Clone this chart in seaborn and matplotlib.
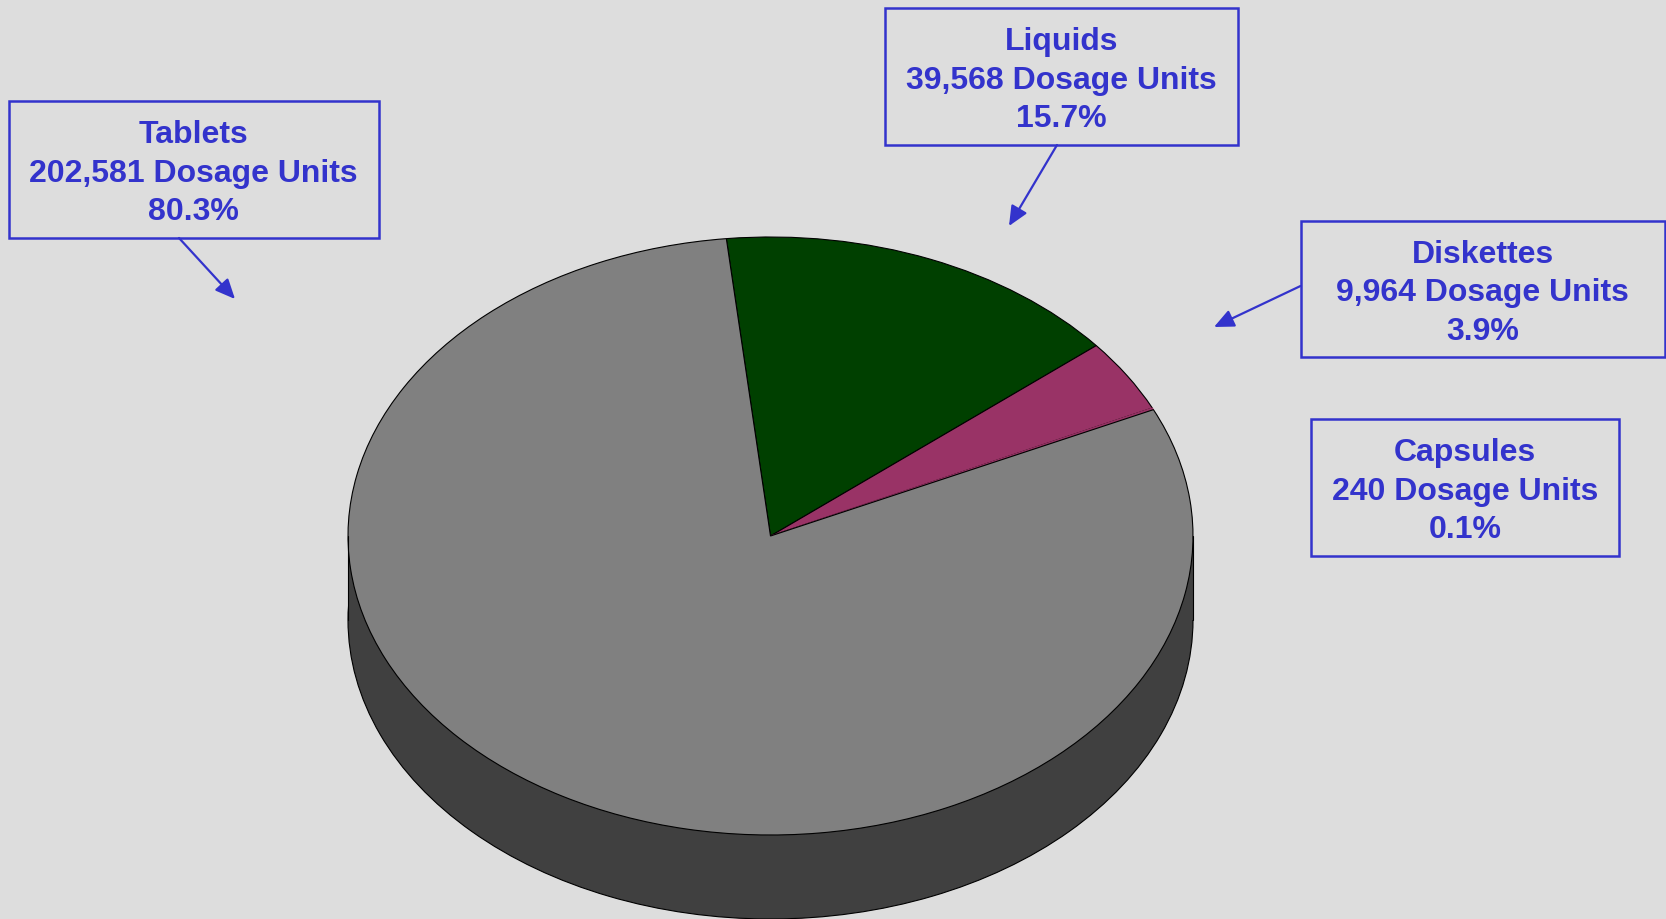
#!/usr/bin/env python3
"""Dosage units by form: tilted 3D-look pie with callout boxes."""

import numpy as np
import matplotlib
matplotlib.use("Agg")
import matplotlib.pyplot as plt
from matplotlib.patches import Rectangle
import seaborn as sns

# data, clockwise from the grey/green edge
categories = ["Liquids", "Diskettes", "Capsules", "Tablets"]
dosage_units = [39568, 9964, 240, 202581]
percent_labels = ["15.7%", "3.9%", "0.1%", "80.3%"]
unit_labels = ["39,568", "9,964", "240", "202,581"]

W, H = 1666, 919
BG = "#DDDDDD"
BLUE = "#3333CC"
# capsules sliver takes the magenta so it doesn't double the black edge
TOP_COLORS = ["#004000", "#993366", "#993366", "#808080"]
SIDE_COLOR = "#404040"

sns.set_theme(style="white", rc={"figure.facecolor": BG, "axes.facecolor": BG})
plt.rcParams["font.family"] = ["Liberation Sans", "DejaVu Sans"]

# pie geometry in pixels
cx, cy, rx, ry, depth = 770.5, 536.0, 422.5, 299.0, 84.0

fig = plt.figure(figsize=(W / 100, H / 100), dpi=100)
ax = fig.add_axes([0, 0, 1, 1])

# side wall first, then the top
d = depth / ry
ax.pie([1], radius=1, center=(0, -d), colors=[SIDE_COLOR],
       wedgeprops={"edgecolor": "black", "linewidth": 0.8})
xs = np.linspace(-1, 1, 400)
ax.fill_between(xs, -d, 0, color=SIDE_COLOR, lw=0)
ax.plot([-1, -1], [-d, 0], color="black", lw=0.8)
ax.plot([1, 1], [-d, 0], color="black", lw=0.8)

wedges, _ = ax.pie(dosage_units, radius=1, startangle=96, colors=TOP_COLORS,
                   counterclock=False,
                   wedgeprops={"edgecolor": "black", "linewidth": 0.8})
wedges[2].set_edgecolor(TOP_COLORS[2])

ax.set_aspect("auto")
ax.set_xlim(-cx / rx, (W - cx) / rx)
ax.set_ylim(-(H - cy) / ry, cy / ry)
ax.axis("off")


def fx(x):
    return x / W


def fy(y):
    return 1 - y / H


# boxes: left, top, right, bottom in pixels; arrow start and tip
boxes = {
    "Tablets": (8.5, 100.5, 379, 238, (179, 238), (235, 299)),
    "Liquids": (885, 7.5, 1238, 145, (1057, 145), (1009, 226)),
    "Diskettes": (1300.5, 221, 1665, 357, (1300.5, 286), (1214, 327)),
    "Capsules": (1311, 418.5, 1619, 556, None, None),
}

for name, units, pct in zip(categories, unit_labels, percent_labels):
    x0, y0, x1, y1, start, tip = boxes[name]
    fig.add_artist(Rectangle((fx(x0), fy(y1)), (x1 - x0) / W, (y1 - y0) / H,
                             transform=fig.transFigure, fill=False,
                             edgecolor=BLUE, linewidth=1.8))
    lines = [name, f"{units} Dosage Units", pct]
    ym = (y0 + y1) / 2
    for i, line in enumerate(lines):
        fig.text(fx((x0 + x1) / 2), fy(ym + 1 + (i - 1) * 38.6), line,
                 ha="center", va="center_baseline", color=BLUE,
                 fontsize=23, fontweight="bold")
    if start is not None:
        ax.annotate("", xy=(fx(tip[0]), fy(tip[1])),
                    xytext=(fx(start[0]), fy(start[1])),
                    xycoords="figure fraction", textcoords="figure fraction",
                    arrowprops=dict(arrowstyle="-|>,head_length=1.0,head_width=0.45",
                                    color=BLUE, lw=1.6, shrinkA=0, shrinkB=0))

fig.savefig("out.png", dpi=100, facecolor=BG)
plt.close("all")
